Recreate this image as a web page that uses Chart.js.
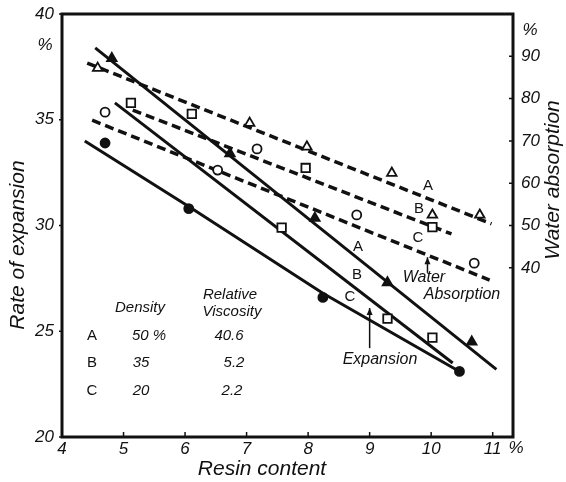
<!DOCTYPE html>
<html>
<head>
<meta charset="utf-8">
<script src="https://cdn.jsdelivr.net/npm/chart.js@4/dist/chart.umd.min.js"></script>
<style>
  body { margin: 0; background: #fff; }
  #wrap { width: 566px; height: 482px; }
</style>
</head>
<body>
<div id="wrap"><canvas id="myChart" width="566" height="482"></canvas></div>
<script>
// ejes
const xTicks = [4, 5, 6, 7, 8, 9, 10, 11];
const leftTicks = [20, 25, 30, 35, 40];
const rightTicks = [40, 50, 60, 70, 80, 90];

// expansion (puntos, eje izquierdo)
const expA_x = [4.81, 6.73, 8.11, 9.29, 10.66];
const expA_y = [37.9, 33.4, 30.35, 27.3, 24.5];
const expB_x = [5.12, 7.57, 9.29, 10.02];
const expB_y = [35.8, 29.9, 25.6, 24.7];
const expC_x = [4.70, 6.06, 8.24, 10.46];
const expC_y = [33.9, 30.8, 26.6, 23.1];

// water absorption (puntos, eje derecho)
const watA_x = [4.58, 7.05, 7.98, 9.36, 10.02, 10.79];
const watA_y = [87.2, 74.2, 68.6, 62.4, 52.5, 52.5];
const watB_x = [6.11, 7.96, 10.02];
const watB_y = [76.4, 63.6, 49.6];
const watC_x = [4.70, 6.53, 7.17, 8.79, 10.70];
const watC_y = [76.8, 63.1, 68.1, 52.5, 41.1];

// lineas trazadas
const lineExpA_x = [4.54, 11.06];
const lineExpA_y = [38.4, 23.2];
const lineExpB_x = [4.86, 10.35];
const lineExpB_y = [35.8, 23.5];
const lineExpC_x = [4.37, 6.06, 8.24, 10.46];
const lineExpC_y = [34.0, 30.9, 26.8, 23.1];
const lineWatA_x = [4.41, 10.98];
const lineWatA_y = [88.4, 50.4];
const lineWatB_x = [5.15, 10.33];
const lineWatB_y = [77.3, 48.0];
const lineWatC_x = [4.49, 10.95];
const lineWatC_y = [74.9, 37.1];

const pts = (xs, ys) => xs.map((x, i) => ({ x: x, y: ys[i] }));

const FONT = '"Liberation Sans", "DejaVu Sans", sans-serif';

const solid = (xs, ys) => ({
    data: pts(xs, ys), showLine: true, pointRadius: 0,
    borderColor: '#111', borderWidth: 3, yAxisID: 'y', order: 2
});
const dashed = (xs, ys) => ({
    data: pts(xs, ys), showLine: true, pointRadius: 0,
    borderColor: '#111', borderWidth: 3.5, borderDash: [9, 5], yAxisID: 'y2', order: 2
});
const marks = (xs, ys, style, fill, axis, r) => ({
    data: pts(xs, ys), showLine: false, pointStyle: style, pointRadius: r,
    backgroundColor: fill, borderColor: '#111', borderWidth: 1.8, yAxisID: axis, order: 1
});

const decor = {
    id: 'decor',
    afterDraw(chart) {
        const ctx = chart.ctx;
        const a = chart.chartArea;
        const sx = chart.scales.x, sy = chart.scales.y, s2 = chart.scales.y2;
        ctx.save();
        ctx.strokeStyle = '#111';
        ctx.fillStyle = '#111';
        // marco
        ctx.lineWidth = 3;
        ctx.strokeRect(a.left, a.top, a.right - a.left, a.bottom - a.top);
        // marcas
        ctx.lineWidth = 1.5;
        ctx.beginPath();
        xTicks.forEach(v => {
            const px = sx.getPixelForValue(v);
            ctx.moveTo(px, a.bottom); ctx.lineTo(px, a.bottom - 5);
        });
        leftTicks.forEach(v => {
            const py = sy.getPixelForValue(v);
            ctx.moveTo(a.left, py); ctx.lineTo(a.left - 3, py);
        });
        rightTicks.forEach(v => {
            const py = s2.getPixelForValue(v);
            ctx.moveTo(a.right, py); ctx.lineTo(a.right - 4, py);
        });
        ctx.stroke();

        // flechas
        const arrow = (x, y1, y2, axis) => {
            const s = chart.scales[axis];
            const px = sx.getPixelForValue(x);
            const pa = s.getPixelForValue(y1), pb = s.getPixelForValue(y2);
            ctx.lineWidth = 1.5;
            ctx.beginPath(); ctx.moveTo(px, pa); ctx.lineTo(px, pb); ctx.stroke();
            ctx.beginPath(); ctx.moveTo(px, pb); ctx.lineTo(px - 3, pb + 7); ctx.lineTo(px + 3, pb + 7); ctx.closePath(); ctx.fill();
        };
        arrow(9.94, 38.8, 42.5, 'y2');
        arrow(9.0, 24.2, 26.1, 'y');

        const txt = (s, x, y, font, align) => {
            ctx.font = font; ctx.textAlign = align || 'center'; ctx.textBaseline = 'middle';
            ctx.fillText(s, x, y);
        };
        const it = (n) => 'italic ' + n + 'px ' + FONT;
        const up = (n) => n + 'px ' + FONT;

        // unidades
        txt('%', 45, 45, it(17));
        txt('%', 530, 30, it(17));
        txt('%', 516, 448, it(17));

        // titulos
        ctx.save(); ctx.translate(18, 245); ctx.rotate(-Math.PI / 2);
        txt('Rate of expansion', 0, 0, it(21)); ctx.restore();
        ctx.save(); ctx.translate(553, 180); ctx.rotate(-Math.PI / 2);
        txt('Water absorption', 0, 0, it(21)); ctx.restore();
        txt('Resin content', 262, 469, it(21));

        // tabla
        txt('Density', 140, 308, it(15));
        txt('Relative', 230, 295, it(15));
        txt('Viscosity', 232, 312, it(15));
        txt('A', 92, 336, up(15));
        txt('B', 92, 363, up(15));
        txt('C', 92, 391, up(15));
        txt('50 %', 149, 336, it(15));
        txt('35', 141, 363, it(15));
        txt('20', 141, 391, it(15));
        txt('40.6', 229, 336, it(15));
        txt('5.2', 234, 363, it(15));
        txt('2.2', 232, 391, it(15));

        // etiquetas de lineas
        txt('A', 428, 186, up(15));
        txt('B', 419, 209, up(15));
        txt('C', 418, 238, up(15));
        txt('A', 358, 247, up(15));
        txt('B', 357, 275, up(15));
        txt('C', 350, 297, up(15));
        txt('Water', 424, 278, it(16));
        txt('Absorption', 462, 295, it(16));
        txt('Expansion', 380, 360, it(16));
        ctx.restore();
    }
};

const config = {
    type: 'scatter',
    data: {
        datasets: [
            solid(lineExpA_x, lineExpA_y),
            solid(lineExpB_x, lineExpB_y),
            solid(lineExpC_x, lineExpC_y),
            dashed(lineWatA_x, lineWatA_y),
            dashed(lineWatB_x, lineWatB_y),
            dashed(lineWatC_x, lineWatC_y),
            marks(expA_x, expA_y, 'triangle', '#111', 'y', 5.5),
            marks(expB_x, expB_y, 'rect', '#fff', 'y', 6),
            marks(expC_x, expC_y, 'circle', '#111', 'y', 4.5),
            marks(watA_x, watA_y, 'triangle', '#fff', 'y2', 5.5),
            marks(watB_x, watB_y, 'rect', '#fff', 'y2', 6),
            marks(watC_x, watC_y, 'circle', '#fff', 'y2', 4.5)
        ]
    },
    options: {
        responsive: false,
        animation: false,
        layout: { padding: { top: 14, left: 0, right: 0, bottom: 0 } },
        plugins: { legend: { display: false }, tooltip: { enabled: false } },
        scales: {
            x: {
                type: 'linear', min: 4, max: 11.33,
                afterBuildTicks: s => { s.ticks = xTicks.map(v => ({ value: v })); },
                afterFit: s => { s.height = 45; },
                grid: { display: false }, border: { display: false },
                ticks: { color: '#111', padding: -6, font: { family: FONT, size: 17, style: 'italic' } }
            },
            y: {
                position: 'left', min: 20, max: 40,
                afterBuildTicks: s => { s.ticks = leftTicks.map(v => ({ value: v })); },
                afterFit: s => { s.width = 62; },
                grid: { display: false }, border: { display: false },
                ticks: { color: '#111', padding: 0, font: { family: FONT, size: 17, style: 'italic' } }
            },
            y2: {
                position: 'right', min: 0, max: 100,
                afterBuildTicks: s => { s.ticks = rightTicks.map(v => ({ value: v })); },
                afterFit: s => { s.width = 53; },
                grid: { display: false }, border: { display: false },
                ticks: { color: '#111', padding: 0, font: { family: FONT, size: 17, style: 'italic' } }
            }
        }
    },
    plugins: [decor]
};

const myChart = new Chart(document.getElementById('myChart'), config);
</script>
</body>
</html>
